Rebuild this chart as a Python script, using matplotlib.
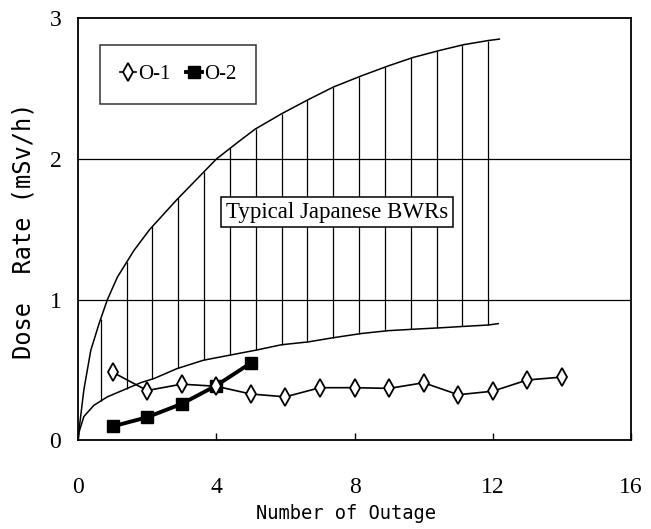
import numpy as np
import matplotlib.pyplot as plt

# measured dose rate per outage
outage_o1 = [1, 2, 3, 4, 5, 6, 7, 8, 9, 10, 11, 12, 13, 14]
dose_o1 = [0.485, 0.355, 0.40, 0.385, 0.33, 0.31, 0.375, 0.375, 0.37, 0.41, 0.325, 0.35, 0.43, 0.45]
outage_o2 = [1, 2, 3, 4, 5]
dose_o2 = [0.10, 0.165, 0.26, 0.39, 0.55]

# envelope of typical Japanese BWRs
band_x_upper = [0, 0.03, 0.17, 0.37, 0.61, 0.85, 1.14, 1.62, 2.08, 2.86, 4.01, 4.69, 5.12,
                5.89, 6.66, 7.39, 8.21, 8.98, 9.70, 10.47, 11.15, 11.87, 12.19]
band_y_upper = [0, 0.075, 0.36, 0.64, 0.83, 1.0, 1.16, 1.35, 1.50, 1.71, 2.0, 2.13, 2.21,
                2.32, 2.42, 2.51, 2.59, 2.66, 2.72, 2.77, 2.81, 2.84, 2.85]
band_x_lower = [0, 0.03, 0.17, 0.46, 0.85, 1.33, 1.81, 2.2, 2.86, 3.63, 4.69, 5.12, 5.89,
                6.66, 7.39, 8.21, 8.98, 9.70, 10.47, 11.15, 11.87, 12.16]
band_y_lower = [0, 0.06, 0.17, 0.25, 0.31, 0.36, 0.41, 0.44, 0.51, 0.57, 0.62, 0.64, 0.68,
                0.70, 0.73, 0.76, 0.78, 0.79, 0.80, 0.81, 0.82, 0.83]

xticks = [0, 4, 8, 12, 16]
yticks = [0, 1, 2, 3]

fig = plt.figure(figsize=(6.51, 5.29), dpi=100)
ax = fig.add_axes([0.1198, 0.1673, 0.8495, 0.7987])
ax.set_xlim(0, 16)
ax.set_ylim(0, 3)

# band outline and vertical hatching between the curves
ax.plot(band_x_upper, band_y_upper, color='black', lw=1.1, zorder=2)
ax.plot(band_x_lower, band_y_lower, color='black', lw=1.1, zorder=2)
hatch_x = np.linspace(0.66, 11.87, 16)
ax.vlines(hatch_x, np.interp(hatch_x, band_x_lower, band_y_lower),
          np.interp(hatch_x, band_x_upper, band_y_upper),
          color='black', lw=0.9, zorder=1)

for yv in [1, 2]:
    ax.axhline(yv, color='black', lw=0.9, zorder=1)

ax.plot(outage_o1, dose_o1, color='black', lw=1.2, marker='d', markersize=9,
        markerfacecolor='white', markeredgecolor='black', markeredgewidth=1.3,
        label='O-1', zorder=4)
ax.plot(outage_o2, dose_o2, color='black', lw=2.8, marker='s', markersize=8,
        markerfacecolor='black', markeredgecolor='black', label='O-2', zorder=3)

ax.text(7.49, 1.62, 'Typical Japanese BWRs', ha='center', va='center',
        family='Liberation Serif', fontsize=16.5, zorder=5,
        bbox=dict(boxstyle='square,pad=0.2', facecolor='white', edgecolor='black', lw=1.1))

leg = ax.legend(loc='upper left', bbox_to_anchor=(0.0398, 0.937), borderaxespad=0,
                ncol=2, prop={'family': 'Liberation Serif', 'size': 15}, frameon=True,
                fancybox=False, edgecolor='black', handlelength=0.8,
                handletextpad=0.1, columnspacing=0.7, borderpad=0.95)
leg.get_frame().set_linewidth(1.1)

ax.set_xticks(xticks)
ax.set_yticks(yticks)
ax.set_xticklabels([str(v) for v in xticks], family='Liberation Serif', fontsize=17)
ax.set_yticklabels([str(v) for v in yticks], family='Liberation Serif', fontsize=17)
ax.tick_params(axis='x', direction='in', length=5, width=1, pad=26)
ax.tick_params(axis='y', length=0, pad=12)
for s in ax.spines.values():
    s.set_linewidth(1.3)

ax.set_xlabel('Number of Outage', family='DejaVu Sans Mono', fontsize=13.5)
ax.xaxis.set_label_coords(0.485, -0.150)
ax.set_ylabel('Dose  Rate (mSv/h)', family='DejaVu Sans Mono', fontsize=17)
ax.yaxis.set_label_coords(-0.076, 0.496)

fig.savefig('out.png', dpi=100)
